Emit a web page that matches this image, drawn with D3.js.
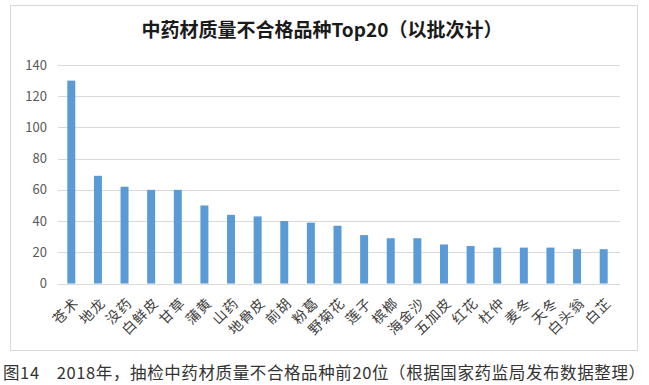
<!DOCTYPE html>
<html>
<head>
<meta charset="utf-8">
<script src="https://cdn.jsdelivr.net/npm/d3@7"></script>
<style>
  body { margin: 0; background: #fff; }
  svg { display: block; font-family: "Noto Sans CJK SC", "Noto Sans", sans-serif; }
</style>
</head>
<body>
<div id="chart"></div>
<script>
// Data
const herbs = ["苍术", "地龙", "没药", "白鲜皮", "甘草", "蒲黄", "山药", "地骨皮", "前胡", "粉葛",
  "野菊花", "莲子", "槟榔", "海金沙", "五加皮", "红花", "杜仲", "麦冬", "天冬", "白头翁", "白芷"];
const counts = [130, 69, 62, 60, 60, 50, 44, 43, 40, 39, 37, 31, 29, 29, 25, 24, 23, 23, 23, 22, 22];
const yTicks = [0, 20, 40, 60, 80, 100, 120, 140];

const width = 649, height = 385;
const svg = d3.select("#chart").append("svg")
    .attr("width", width)
    .attr("height", height);

// Chart frame
svg.append("rect")
    .attr("x", 10.5).attr("y", 5.5)
    .attr("width", 627).attr("height", 345)
    .attr("fill", "#fff")
    .attr("stroke", "#d9d9d9");

// Title
svg.append("text")
    .attr("x", 322).attr("y", 37)
    .attr("text-anchor", "middle")
    .attr("font-size", 19)
    .attr("font-weight", "bold")
    .attr("fill", "#1a1a1a")
    .text("中药材质量不合格品种Top20（以批次计）");

// Scales
const x = d3.scaleBand()
    .domain(herbs)
    .range([58, 617])
    .paddingInner(0.7)
    .paddingOuter(0.35);

const y = d3.scaleLinear()
    .domain([0, 140])
    .range([283.5, 65]);

// Gridlines
svg.append("g")
    .selectAll("line")
    .data(yTicks)
    .join("line")
    .attr("x1", 58).attr("x2", 620)
    .attr("y1", d => Math.round(y(d)) + 0.5)
    .attr("y2", d => Math.round(y(d)) + 0.5)
    .attr("stroke", "#d9d9d9");

// Y-axis labels
svg.append("g")
    .selectAll("text")
    .data(yTicks)
    .join("text")
    .attr("x", 47)
    .attr("y", d => y(d))
    .attr("dy", "0.35em")
    .attr("text-anchor", "end")
    .attr("font-size", 13)
    .attr("fill", "#595959")
    .text(d => d);

// Bars
svg.append("g")
    .selectAll("rect")
    .data(counts)
    .join("rect")
    .attr("x", (d, i) => x(herbs[i]))
    .attr("y", d => y(d))
    .attr("width", x.bandwidth())
    .attr("height", d => y(0) - y(d))
    .attr("fill", "#5b9bd5");

// Category labels, rotated
svg.append("g")
    .selectAll("text")
    .data(herbs)
    .join("text")
    .attr("transform", d => `translate(${x(d) + x.bandwidth() / 2 + 5},${y(0) + 17}) rotate(-45)`)
    .attr("text-anchor", "end")
    .attr("dy", "0.35em")
    .attr("font-size", 14)
    .attr("letter-spacing", 1)
    .attr("fill", "#404040")
    .text(d => d);

// Caption below the chart
svg.append("text")
    .attr("x", 3).attr("y", 379)
    .attr("font-size", 16.5)
    .attr("fill", "#333")
    .attr("textLength", 642)
    .text("图14　2018年，抽检中药材质量不合格品种前20位（根据国家药监局发布数据整理）");
</script>
</body>
</html>
